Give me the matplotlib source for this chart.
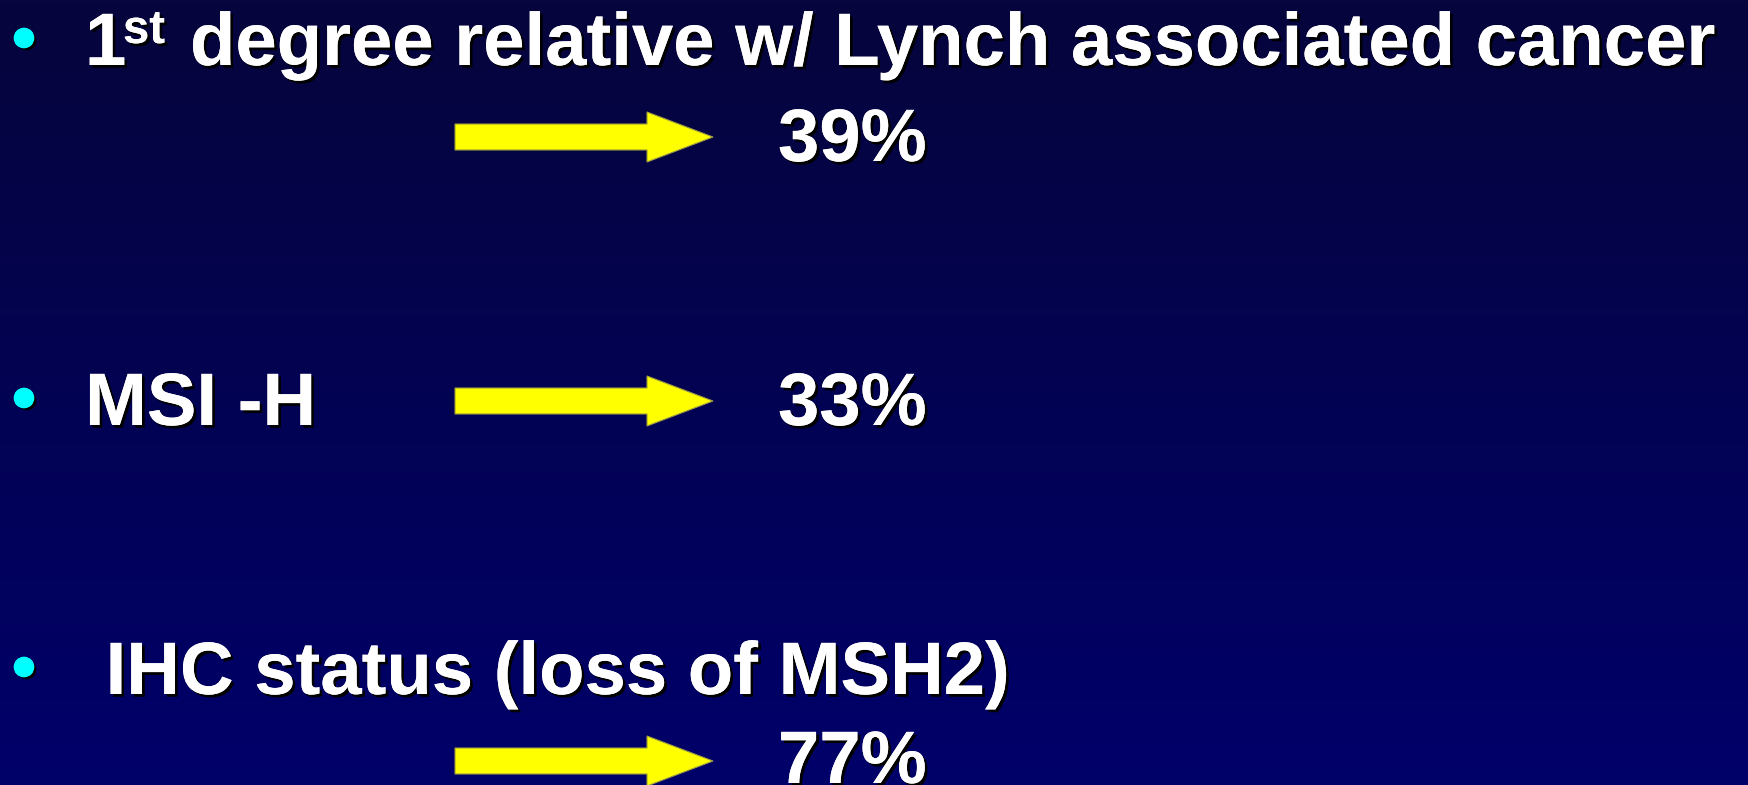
import numpy as np
import matplotlib.pyplot as plt
from matplotlib.patches import FancyArrow, Circle
import matplotlib.patheffects as pe

# slide content
factors = ["degree relative w/ Lynch associated cancer", "MSI -H", " IHC status (loss of MSH2)"]
percents = [39, 33, 77]

W, H = 1748, 785
plt.rcParams['font.family'] = ['Liberation Sans', 'DejaVu Sans']

fig = plt.figure(figsize=(W / 100, H / 100), dpi=100)
ax = fig.add_axes([0, 0, 1, 1])
ax.set_xlim(0, W)
ax.set_ylim(H, 0)
ax.axis('off')

# background gradient, dark navy at the top to blue at the bottom
top = np.array([6, 5, 60]) / 255
bot = np.array([0, 0, 106]) / 255
t = np.linspace(0, 1, 256)[:, None]
grad = (top * (1 - t) + bot * t)[:, None, :]
ax.imshow(grad, extent=[0, W, H, 0], aspect='auto', zorder=0)

shadow = [pe.withSimplePatchShadow(offset=(2, -2), shadow_rgbFace='black', alpha=1), pe.Normal()]
fs = 53.5

def bullet(y):
    c = Circle((24, y), 9.5, color='#00ffff', zorder=3)
    c.set_path_effects(shadow)
    ax.add_patch(c)

def arrow(yc):
    a = FancyArrow(455, yc, 258, 0, width=26, head_width=50, head_length=66,
                   length_includes_head=True, facecolor='#ffff00', edgecolor='#9a9a40',
                   lw=0.8, zorder=3)
    ax.add_patch(a)

def label(x, y, s, size=fs):
    ax.text(x, y, s, fontsize=size, fontweight='bold', color='white',
            ha='left', va='baseline', path_effects=shadow, zorder=4)

# item 1
bullet(38)
label(85, 65, "1")
label(123, 43, "st", size=34)
label(190, 65, factors[0])
arrow(137)
label(778, 161, f"{percents[0]}%")

# item 2
bullet(398)
label(85, 425, factors[1])
arrow(401)
label(778, 425, f"{percents[1]}%")

# item 3
bullet(667)
label(85, 694, factors[2])
arrow(761)
label(778, 783, f"{percents[2]}%")

fig.savefig('out.png', dpi=100)
